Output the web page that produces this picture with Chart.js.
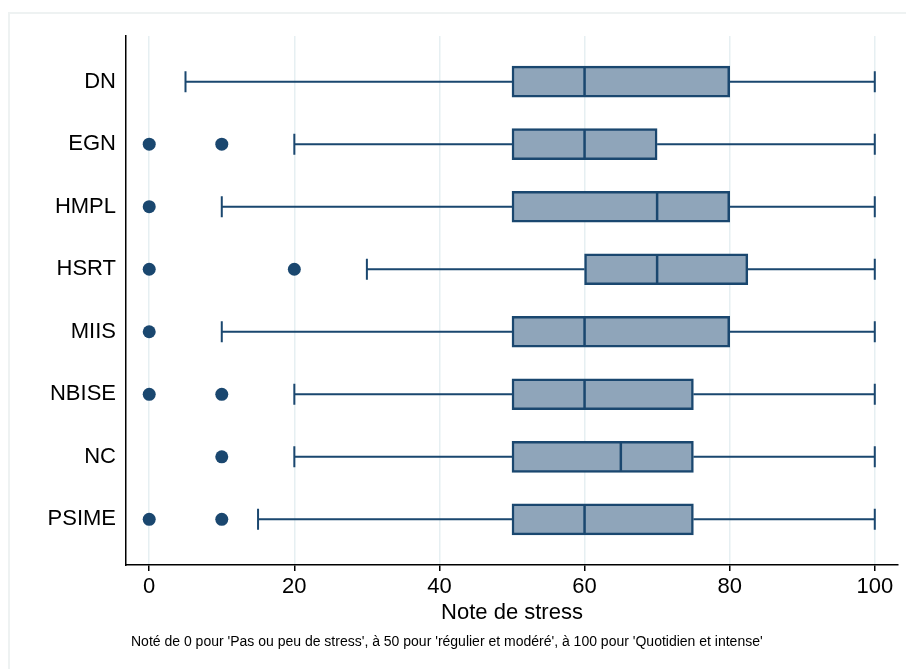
<!DOCTYPE html>
<html lang="fr">
<head>
    <meta charset="UTF-8">
    <title>Note de stress</title>
    <script src="https://cdn.jsdelivr.net/npm/chart.js"></script>
    <style>
        body {
            margin: 0;
            background: #fff;
            font-family: 'Liberation Sans', Arial, sans-serif;
        }

        #wrap {
            position: relative;
            width: 906px;
            height: 669px;
            overflow: hidden;
        }

        /* light outer frame of the graph region */
        #frame {
            position: absolute;
            left: 8px;
            top: 12px;
            width: 920px;
            height: 700px;
            border-left: 2px solid #eef2f2;
            border-top: 2px solid #eef2f2;
        }

        canvas {
            position: absolute;
            left: 0;
            top: 0;
        }
    </style>
</head>
<body>
    <div id="wrap">
        <div id="frame"></div>
        <canvas id="chart"></canvas>
    </div>

    <script>
        // data
        const categories = ['DN', 'EGN', 'HMPL', 'HSRT', 'MIIS', 'NBISE', 'NC', 'PSIME'];
        const whiskerLow = [5, 20, 10, 30, 10, 20, 20, 15];
        const q1 = [50, 50, 50, 60, 50, 50, 50, 50];
        const median = [60, 60, 70, 70, 60, 60, 65, 60];
        const q3 = [80, 70, 80, 82.5, 80, 75, 75, 75];
        const whiskerHigh = [100, 100, 100, 100, 100, 100, 100, 100];
        const outliers = [[], [0, 10], [0], [0, 20], [0], [0, 10], [10], [0, 10]];
        const xTicks = [0, 20, 40, 60, 80, 100];
        const note = "Noté de 0 pour 'Pas ou peu de stress', à 50 pour 'régulier et modéré', à 100 pour 'Quotidien et intense'";

        const navy = '#1a476f';
        const boxFill = '#8fa5ba';
        const font = "'Liberation Sans', Arial, sans-serif";

        const boxData = categories.map((c, i) => ({ x: [q1[i], q3[i]], y: i + 1 }));
        const outlierData = [];
        outliers.forEach((list, i) => list.forEach(v => outlierData.push({ x: v, y: i + 1 })));

        // whiskers, caps and medians, placed with the chart's scales
        const boxParts = {
            id: 'boxParts',
            afterDatasetsDraw(chart) {
                const { ctx, scales: { x, y } } = chart;
                ctx.save();
                ctx.strokeStyle = navy;
                categories.forEach((c, i) => {
                    const yc = y.getPixelForValue(i + 1);
                    const lo = x.getPixelForValue(whiskerLow[i]);
                    const hi = x.getPixelForValue(whiskerHigh[i]);
                    const a = x.getPixelForValue(q1[i]);
                    const b = x.getPixelForValue(q3[i]);
                    const m = x.getPixelForValue(median[i]);

                    ctx.lineWidth = 2;
                    ctx.beginPath();
                    ctx.moveTo(lo, yc); ctx.lineTo(a, yc);
                    ctx.moveTo(b, yc); ctx.lineTo(hi, yc);
                    ctx.moveTo(lo, yc - 10.5); ctx.lineTo(lo, yc + 10.5);
                    ctx.moveTo(hi, yc - 10.5); ctx.lineTo(hi, yc + 10.5);
                    ctx.stroke();

                    ctx.lineWidth = 2.5;
                    ctx.beginPath();
                    ctx.moveTo(m, yc - 14); ctx.lineTo(m, yc + 14);
                    ctx.stroke();
                });
                ctx.restore();
            },
            afterDraw(chart) {
                const ctx = chart.ctx;
                ctx.save();
                ctx.fillStyle = '#000';
                ctx.font = '14px ' + font;
                ctx.textBaseline = 'alphabetic';
                ctx.fillText(note, 131, 646);
                ctx.restore();
            }
        };

        new Chart(document.getElementById('chart'), {
            type: 'bar',
            data: {
                datasets: [
                    {
                        type: 'scatter',
                        data: outlierData,
                        pointRadius: 6.5,
                        pointBackgroundColor: navy,
                        pointBorderColor: navy,
                        pointBorderWidth: 0,
                        order: 0
                    },
                    {
                        data: boxData,
                        backgroundColor: boxFill,
                        borderColor: navy,
                        borderWidth: 2.5,
                        borderSkipped: false,
                        barThickness: 31,
                        order: 1
                    }
                ]
            },
            options: {
                indexAxis: 'y',
                responsive: true,
                maintainAspectRatio: false,
                animation: false,
                layout: {
                    padding: { top: 36, right: 8, left: 0, bottom: 0 }
                },
                plugins: {
                    legend: { display: false },
                    tooltip: { enabled: false }
                },
                scales: {
                    x: {
                        type: 'linear',
                        min: -3.2,
                        max: 103.2,
                        offset: false,
                        afterFit: s => { s.height = 104; },
                        afterBuildTicks: s => { s.ticks = xTicks.map(v => ({ value: v })); },
                        grid: {
                            color: '#e6eff2',
                            lineWidth: 1.5,
                            tickColor: '#000',
                            tickLength: 6,
                            tickWidth: 1.5
                        },
                        border: { color: '#000', width: 1.5 },
                        ticks: {
                            color: '#000',
                            padding: 3,
                            font: { family: font, size: 22 }
                        },
                        title: {
                            display: true,
                            text: 'Note de stress',
                            color: '#000',
                            font: { family: font, size: 22 },
                            padding: { top: 0, bottom: 43 }
                        }
                    },
                    y: {
                        type: 'linear',
                        reverse: true,
                        min: 0.27,
                        max: 8.73,
                        offset: false,
                        afterFit: s => { s.width = 126; },
                        afterBuildTicks: s => { s.ticks = categories.map((c, i) => ({ value: i + 1 })); },
                        grid: { display: false, drawTicks: false },
                        border: { color: '#000', width: 1.5 },
                        ticks: {
                            color: '#000',
                            padding: 10,
                            autoSkip: false,
                            font: { family: font, size: 22 },
                            callback: v => categories[v - 1]
                        }
                    }
                }
            },
            plugins: [boxParts]
        });
    </script>
</body>
</html>
